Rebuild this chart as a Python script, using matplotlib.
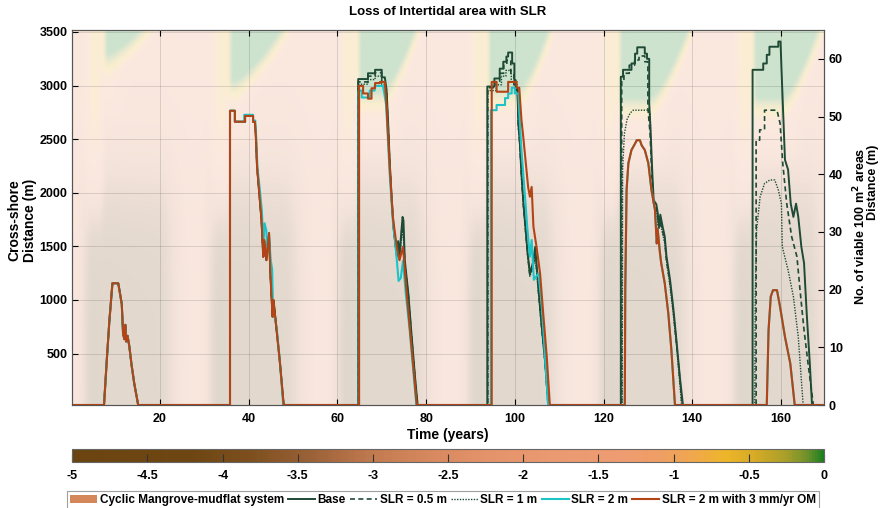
import numpy as np
import matplotlib
matplotlib.use("Agg")
import matplotlib.pyplot as plt
from matplotlib.colors import LinearSegmentedColormap, Normalize
from matplotlib.cm import ScalarMappable
from matplotlib.patches import Patch
from matplotlib.lines import Line2D

plt.rcParams['font.family'] = ['Liberation Sans', 'DejaVu Sans']
plt.rcParams['font.weight'] = 'bold'
plt.rcParams['axes.unicode_minus'] = False

# ---------------- viable-area series (right axis, number of 100 m2 areas) ----------------
# cycles 1 and 2 coincide for every scenario
c1_t = [7.4, 8.0, 8.6, 9.2, 9.3, 10.6, 10.9, 11.4, 11.7, 12.0, 12.2, 12.4, 12.7, 13.1, 13.6, 14.2, 15.1]
c1_v = [0, 7.5, 14.5, 20.2, 21.1, 21.1, 19.8, 17.5, 12.3, 11.4, 13.9, 11.0, 12.0, 10.2, 7.0, 3.8, 0]

c2_t = [35.8, 35.8, 36.9, 36.9, 39.2, 39.2, 41.0, 41.0, 41.4, 41.6, 41.9, 42.4, 42.9, 43.3, 43.5,
        44.0, 44.6, 44.9, 45.4, 45.6, 46.3, 47.0, 47.9]
c2_v = [0, 51.0, 51.0, 49.1, 49.1, 50.1, 50.1, 49.1, 49.1, 47.1, 41.3, 36.7, 32.1, 25.7, 28.6,
        25.1, 29.8, 22.8, 15.3, 18.2, 13.0, 7.8, 0]
c2_slr2_t = [35.8, 35.8, 36.9, 36.9, 39.0, 39.0, 41.0, 41.0, 41.5, 41.7, 42.0, 42.5, 43.0, 43.3,
             43.6, 44.0, 44.2, 44.6, 45.0, 45.3, 45.5, 46.3, 47.0, 47.8]
c2_slr2_v = [0, 51.0, 51.0, 49.1, 49.1, 50.3, 50.3, 49.3, 49.3, 46.5, 41.0, 37.5, 33.5, 27.5,
             31.5, 30.2, 26.0, 29.0, 25.0, 23.5, 16.5, 13.5, 8.0, 0]

# cycles 3-6, per scenario
base_t = [64.7, 64.7, 66.9, 66.9, 68.5, 68.5, 70.0, 70.0, 70.7, 71.1, 71.5, 71.8, 72.2, 72.7, 73.4,
          73.7, 74.0, 74.7, 74.9, 75.2, 76.0, 76.7, 77.5, 78.1,
          93.8, 93.8, 95.4, 95.4, 96.6, 96.6, 97.4, 97.4, 98.1, 98.1, 98.5, 98.5, 99.4, 99.4, 99.9,
          99.9, 100.2, 100.2, 100.6, 100.8, 101.1, 101.5, 101.9, 102.4, 102.9, 103.4, 104.1, 104.6,
          105.3, 106.0, 106.8, 107.6,
          123.9, 123.9, 124.4, 124.4, 126.3, 126.3, 127.1, 127.1, 127.6, 127.6, 129.3, 129.3, 129.8,
          129.8, 130.3, 130.3, 130.6, 131.0, 131.3, 131.9, 132.2, 132.5, 132.8, 133.3, 133.8, 134.2,
          135.0, 135.7, 136.5, 137.2, 137.9,
          153.6, 153.6, 156.0, 156.0, 156.8, 156.8, 157.4, 157.4, 159.4, 159.4, 159.9, 160.1, 160.5,
          160.9, 161.6, 162.2, 162.8, 163.4, 163.9, 164.6, 165.2, 165.8, 166.5, 167.0]
base_v = [0, 56.5, 56.5, 57.5, 57.5, 58.1, 58.1, 56.8, 56.8, 54.6, 48.0, 42.2, 36.4, 30.6, 26.0,
          28.4, 26.0, 32.6, 32.0, 25.1, 19.3, 12.4, 4.9, 0,
          0, 55.2, 55.2, 56.6, 56.6, 58.3, 58.3, 59.5, 59.5, 60.4, 60.4, 61.1, 61.1, 59.2, 59.2,
          56.3, 56.3, 54.6, 54.6, 48.8, 46.0, 40.2, 35.5, 30.9, 26.3, 22.8, 24.7, 27.4,
          20.5, 14.2, 7.8, 0,
          0, 56.9, 56.9, 58.1, 58.1, 59.2, 59.2, 60.9, 60.9, 62.0, 62.0, 60.9, 60.9,
          60.0, 60.0, 52.3, 47.7, 40.2, 35.5, 34.8, 33.4, 31.0, 33.0, 31.0, 29.2, 25.7,
          21.7, 17.0, 10.7, 4.9, 0,
          0, 58.1, 58.1, 59.2, 59.2, 60.7, 60.7, 62.1, 62.1, 63.0, 63.0, 58.6, 50.5,
          42.5, 40.8, 34.9, 32.6, 34.9, 32.6, 27.4, 24.6, 15.9, 7.2, 0]

slr05_t = [64.7, 64.7, 66.9, 66.9, 68.5, 68.5, 70.0, 70.0, 70.7, 71.1, 71.5, 71.8, 72.2, 72.7, 73.4,
           73.7, 74.0, 74.6, 74.9, 75.2, 76.0, 76.7, 77.5, 78.0,
           93.9, 93.9, 95.5, 95.5, 96.6, 96.6, 97.5, 97.5, 98.2, 98.2, 99.1, 99.1, 99.8, 99.8, 100.6,
           100.8, 101.1, 101.5, 101.9, 102.4, 102.9, 103.4, 104.1, 104.6, 105.3, 106.0, 106.8, 107.5,
           124.1, 124.1, 124.6, 124.6, 125.8, 125.8, 127.0, 127.0, 128.0, 128.0, 129.3, 129.3, 130.0,
           130.0, 130.5, 130.9, 131.3, 131.9, 132.2, 132.5, 132.8, 133.3, 133.8, 134.2, 135.0, 135.7,
           136.5, 137.2, 137.7,
           154.4, 154.4, 155.2, 155.2, 156.3, 156.3, 159.1, 159.8, 160.4, 161.3, 162.4, 163.6, 164.3,
           165.2, 166.1, 167.3]
slr05_v = [0, 56.0, 56.0, 57.0, 57.0, 57.6, 57.6, 56.0, 56.0, 54.0, 47.5, 42.0, 36.0, 30.4, 25.8,
           28.0, 25.5, 31.0, 30.0, 24.5, 19.0, 12.2, 4.8, 0,
           0, 55.0, 55.0, 56.0, 56.0, 57.5, 57.5, 59.0, 59.0, 59.8, 59.8, 57.5, 57.5, 55.5, 55.5,
           48.5, 45.5, 39.8, 35.0, 30.5, 26.0, 22.5, 24.0, 26.5, 20.0, 14.0, 7.6, 0,
           0, 56.3, 56.3, 57.5, 57.5, 58.9, 58.9, 59.8, 59.8, 60.5, 60.5, 59.5, 59.5,
           51.5, 47.0, 39.5, 35.0, 34.0, 32.8, 30.5, 32.0, 30.2, 28.5, 25.0, 21.0, 16.5,
           10.3, 4.6, 0,
           0, 45.9, 45.9, 47.7, 47.7, 51.1, 51.1, 48.8, 41.9, 34.9, 29.2, 25.7, 19.9,
           13.0, 7.2, 0]

slr1_t = [64.7, 64.7, 66.9, 66.9, 68.5, 68.5, 70.0, 70.0, 70.7, 71.1, 71.5, 71.8, 72.2, 72.7, 73.4,
          73.7, 74.0, 74.6, 74.9, 75.2, 76.0, 76.7, 77.5, 78.0,
          93.9, 93.9, 95.8, 95.8, 97.0, 97.0, 98.0, 98.0, 99.2, 99.2, 100.5, 100.8, 101.1, 101.5,
          101.9, 102.4, 102.9, 103.4, 104.1, 104.6, 105.3, 106.0, 106.8, 107.5,
          124.2, 124.3, 124.7, 125.3, 126.0, 126.7, 130.1, 130.5, 130.8, 131.3, 131.9, 132.4, 132.8,
          133.3, 133.8, 134.2, 135.0, 135.7, 136.5, 137.6,
          154.1, 154.2, 154.5, 155.3, 156.3, 157.5, 158.6, 159.4, 160.1, 160.3, 160.5, 161.6, 162.8,
          163.9, 165.0]
slr1_v = [0, 55.6, 55.6, 56.4, 56.4, 57.0, 57.0, 55.6, 55.6, 53.6, 47.2, 41.8, 35.8, 30.2, 25.6,
          27.6, 25.2, 30.0, 29.0, 24.2, 18.8, 12.0, 4.7, 0,
          0, 54.5, 54.5, 55.5, 55.5, 57.0, 57.0, 58.0, 58.0, 56.0, 56.0, 48.0, 45.2, 39.5,
          34.8, 30.2, 25.8, 22.3, 23.8, 26.0, 19.8, 13.8, 7.5, 0,
          0, 40.8, 47.0, 49.5, 50.6, 51.1, 51.1, 50.5, 42.0, 35.0, 33.5, 30.5, 31.5,
          29.8, 28.0, 25.0, 20.5, 16.0, 10.0, 0,
          0, 18.8, 30.3, 36.1, 38.4, 39.0, 39.0, 37.3, 34.9, 27.5, 26.8, 23.4, 18.8,
          11.8, 0]

om_t = [64.9, 64.9, 65.8, 65.8, 66.9, 66.9, 67.7, 67.7, 68.5, 68.5, 69.6, 69.6, 70.7, 71.0, 71.8,
        72.5, 73.4, 74.0, 74.8, 75.5, 76.3, 77.9,
        94.8, 94.8, 95.9, 95.9, 98.5, 98.5, 100.4, 100.4, 101.0, 101.5, 101.9, 102.7, 103.0, 103.4,
        103.8, 104.2, 104.9, 105.7, 106.4, 107.2, 107.9,
        124.8, 124.9, 125.2, 125.6, 126.3, 127.1, 127.5, 128.2, 128.6, 129.3, 130.1, 130.8, 131.6,
        132.0, 132.2, 132.7, 133.0, 133.8, 134.6, 135.3, 136.1,
        156.8, 157.2, 157.7, 158.2, 159.1, 159.8, 160.9, 162.1, 163.1]
om_v = [0, 55.3, 55.3, 54.0, 54.0, 53.1, 53.1, 54.9, 54.9, 55.8, 55.8, 56.0, 56.0, 53.0, 41.3,
        32.6, 27.4, 25.1, 27.4, 20.5, 13.6, 0,
        0, 56.0, 56.0, 54.3, 54.3, 56.0, 56.0, 55.0, 55.0, 49.4, 46.5, 40.2, 37.8, 36.1,
        37.8, 30.9, 27.4, 22.8, 15.9, 8.4, 0,
        0, 20.0, 37.3, 41.9, 44.2, 45.3, 45.9, 45.9, 45.0, 44.2, 41.9, 37.3, 33.8,
        28.0, 30.5, 26.5, 24.6, 21.1, 15.9, 9.5, 0,
        0, 13.0, 18.8, 19.9, 19.9, 17.0, 11.8, 7.2, 0]

slr2_t = [64.8, 64.8, 65.5, 65.5, 67.3, 67.3, 68.4, 68.4, 70.3, 71.0, 71.8, 72.5, 73.3, 73.8, 74.3,
          74.8, 75.4, 76.3, 77.8,
          94.6, 94.6, 95.9, 95.9, 97.8, 97.8, 98.5, 98.5, 99.3, 99.3, 100.0, 100.0, 100.8, 101.1,
          101.5, 102.3, 102.8, 103.4, 103.8, 104.3, 105.3, 106.0, 106.8, 107.5]
slr2_v = [0, 54.5, 54.5, 53.3, 53.3, 54.5, 54.5, 55.3, 55.3, 52.0, 40.0, 32.0, 26.0, 21.5, 22.0,
          25.0, 19.5, 13.0, 0,
          0, 51.1, 51.1, 52.0, 52.0, 53.2, 53.2, 54.0, 54.0, 55.0, 55.0, 54.0, 54.0, 49.4,
          44.2, 36.1, 30.9, 25.7, 28.6, 21.7, 22.8, 18.2, 8.4, 0]

# ---------------- background system field (left axis, cross-shore distance) ----------------
wedge_start = [7.2, 35.6, 64.4, 93.7, 123.2, 153.5]
wedge_knee = [8.0, 36.5, 70.0, 101.0, 130.5, 160.4]
wedge_floor = [3270, 3025, 2930, 2960, 2870, 2870]
wedge_end = [16.2, 47.8, 77.9, 108.0, 139.4, 168.7]

cmap_vals = [-5.0, -4.2, -3.8, -3.4, -3.0, -2.6, -2.2, -1.8, -1.3, -1.05, -0.85, -0.65, -0.45,
             -0.25, -0.1, 0.0]
cmap_cols = ['#6b4410', '#6e4612', '#7e5020', '#9c6238', '#c27a50', '#d8895f', '#e5936b',
             '#eb9971', '#ee9c70', '#ef9f62', '#f0a94a', '#eeb52a', '#d5ab25', '#aa9f2a',
             '#6e912a', '#1f8020']
cmap = LinearSegmentedColormap.from_list(
    'system', [((v + 5) / 5, c) for v, c in zip(cmap_vals, cmap_cols)])

T_MAX, D_MAX = 170.0, 3520.0
t_grid = np.arange(0.125, T_MAX, 0.25)
d_grid = np.arange(5.0, D_MAX, 10.0)
T, Dd = np.meshgrid(t_grid, d_grid)
field = np.full(T.shape, -1.8)

dark_time = np.full(T.shape, 0.18)
for c in wedge_start:
    dark_time = np.maximum(dark_time, np.interp(T - c, [-6, -2.5, 0.5, 13, 19],
                                                [0.18, 1.0, 0.9, 0.85, 0.18]))
dark = dark_time / (1 + np.exp((Dd - 2250) / 300))
field += dark * (-4.1 - field)

for c in wedge_start:
    w = np.interp(T - c, [-4.5, -3.0, -0.5, 0.3], [0, 0.9, 0.9, 0]) / (1 + np.exp(-(Dd - 2050) / 220))
    field += w * (-0.65 - field)

for c, k, f in zip(wedge_start, wedge_knee, wedge_floor):
    w = np.interp(T - c, [0, 0.6, k - c + 1, k - c + 5], [0, 0.6, 0.6, 0]) * np.clip((Dd - (f - 650)) / 300, 0, 1)
    field += w * (-0.9 - field)

for c, k, f, e in zip(wedge_start, wedge_knee, wedge_floor, wedge_end):
    frac = np.clip((T - k) / (e - k), 0, None)
    B = f + (D_MAX - f) * frac ** 1.5
    g = np.clip((Dd - (B - 260)) / 260, 0, 1) * (T >= c)
    field += g * (0 - field)


def gauss_blur(a, s_row, s_col):
    def kern(s):
        r = int(3 * s) + 1
        x = np.arange(-r, r + 1)
        g = np.exp(-x ** 2 / (2 * s * s))
        return g / g.sum()
    kr, kc = kern(s_row), kern(s_col)
    a = np.apply_along_axis(lambda v: np.convolve(np.pad(v, len(kr) // 2, mode='edge'), kr, mode='valid'), 0, a)
    a = np.apply_along_axis(lambda v: np.convolve(np.pad(v, len(kc) // 2, mode='edge'), kc, mode='valid'), 1, a)
    return a


field = gauss_blur(field, 3, 2)

# ---------------- figure ----------------
W, H = 880, 508
fig = plt.figure(figsize=(W / 100, H / 100), dpi=100)
ax = fig.add_axes([72.3 / W, 1 - 405 / H, (824 - 72.3) / W, (405 - 30) / H])
norm = Normalize(-5, 0)
ax.imshow(field, extent=[0, T_MAX, 0, D_MAX], origin='lower', aspect='auto', cmap=cmap, norm=norm,
          alpha=0.22, interpolation='bilinear', zorder=0)
ax.set_xlim(0.25, 169.7)
ax.set_ylim(20, 3518)
ax.set_xticks(range(20, 161, 20))
ax.set_yticks(range(500, 3501, 500))
ax.grid(True, color='#262626', alpha=0.15, linewidth=0.7)
ax.tick_params(axis='x', direction='in', top=True, labelsize=9, length=4, pad=6)
ax.tick_params(axis='y', direction='in', labelsize=9, length=4)
for s in ax.spines.values():
    s.set_color('#555555')
    s.set_linewidth(0.8)
ax.set_xlabel('Time (years)', fontsize=10, fontweight='bold', labelpad=2)

ax2 = ax.twinx()
ax2.set_ylim(0, 65)
ax2.set_yticks(range(0, 61, 10))
ax2.tick_params(axis='y', direction='in', labelsize=9, length=4)
for s in ax2.spines.values():
    s.set_color('#555555')
    s.set_linewidth(0.8)

green = '#1e4a36'
cyan = '#1cc4c8'
rust = '#b34415'


def full_series(*parts):
    ts, vs = [0.0], [0.0]
    for pt, pv in parts:
        ts += list(pt)
        vs += list(pv)
    ts.append(T_MAX)
    vs.append(0.0)
    return ts, vs


series = [
    (full_series((c1_t, c1_v), (c2_t, c2_v), (base_t, base_v)), dict(color=green, lw=1.4, ls='-')),
    (full_series((c1_t, c1_v), (c2_t, c2_v), (slr05_t, slr05_v)), dict(color=green, lw=1.2, ls=(0, (3, 2)))),
    (full_series((c1_t, c1_v), (c2_t, c2_v), (slr1_t, slr1_v)), dict(color=green, lw=1.0, ls=(0, (1, 1)))),
    (full_series((c1_t, c1_v), (c2_slr2_t, c2_slr2_v), (slr2_t, slr2_v), (om_t[43:], om_v[43:])),
     dict(color=cyan, lw=1.5, ls='-')),
    (full_series((c1_t, c1_v), (c2_t, c2_v), (om_t, om_v)), dict(color=rust, lw=1.5, ls='-')),
]
for (ts, vs), style in series:
    ax2.plot(ts, vs, **style)

fig.text(448 / W, 1 - 12 / H, 'Loss of Intertidal area with SLR', ha='center', va='center',
         fontsize=9.5, fontweight='bold')
fig.text(22 / W, 1 - 220 / H, 'Cross-shore\nDistance (m)', rotation=90, ha='center', va='center',
         fontsize=10, fontweight='bold', multialignment='center')
fig.text(860 / W, 1 - 148 / H, 'No. of viable 100 m$^\\mathbf{2}$ areas', rotation=90, ha='center',
         va='top', fontsize=9, fontweight='bold')
fig.text(873 / W, 1 - 145 / H, 'Distance (m)', rotation=90, ha='center', va='top', fontsize=9,
         fontweight='bold')

# colour bar
cax = fig.add_axes([72.3 / W, 1 - 462 / H, (824 - 72.3) / W, 13 / H])
cb = fig.colorbar(ScalarMappable(norm=norm, cmap=cmap), cax=cax, orientation='horizontal')
cb_ticks = np.arange(-5, 0.01, 0.5)
cb.set_ticks(cb_ticks)
cb.set_ticklabels(['0' if abs(v) < 1e-9 else '%g' % v for v in cb_ticks])
cax.tick_params(direction='in', length=6, labelsize=9, pad=6, color='#333333')
cb.outline.set_edgecolor('#666666')
cb.outline.set_linewidth(0.8)

handles = [Patch(facecolor='#d4875a', edgecolor='none'),
           Line2D([], [], color=green, lw=1.4),
           Line2D([], [], color=green, lw=1.2, ls=(0, (3, 2))),
           Line2D([], [], color=green, lw=1.0, ls=(0, (1, 1))),
           Line2D([], [], color=cyan, lw=1.5),
           Line2D([], [], color=rust, lw=1.5)]
labels = ['Cyclic Mangrove-mudflat system', 'Base', 'SLR = 0.5 m', 'SLR = 1 m', 'SLR = 2 m',
          'SLR = 2 m with 3 mm/yr OM']
leg = fig.legend(handles, labels, loc='center', bbox_to_anchor=(443 / W, 1 - 500 / H), ncol=6,
                 fontsize=8.5, frameon=True, fancybox=False, edgecolor='#888888',
                 handlelength=2.3, handletextpad=0.2, columnspacing=0.35, borderpad=0.25,
                 borderaxespad=0)
leg.get_frame().set_linewidth(0.8)

fig.savefig('out.png', dpi=100)
